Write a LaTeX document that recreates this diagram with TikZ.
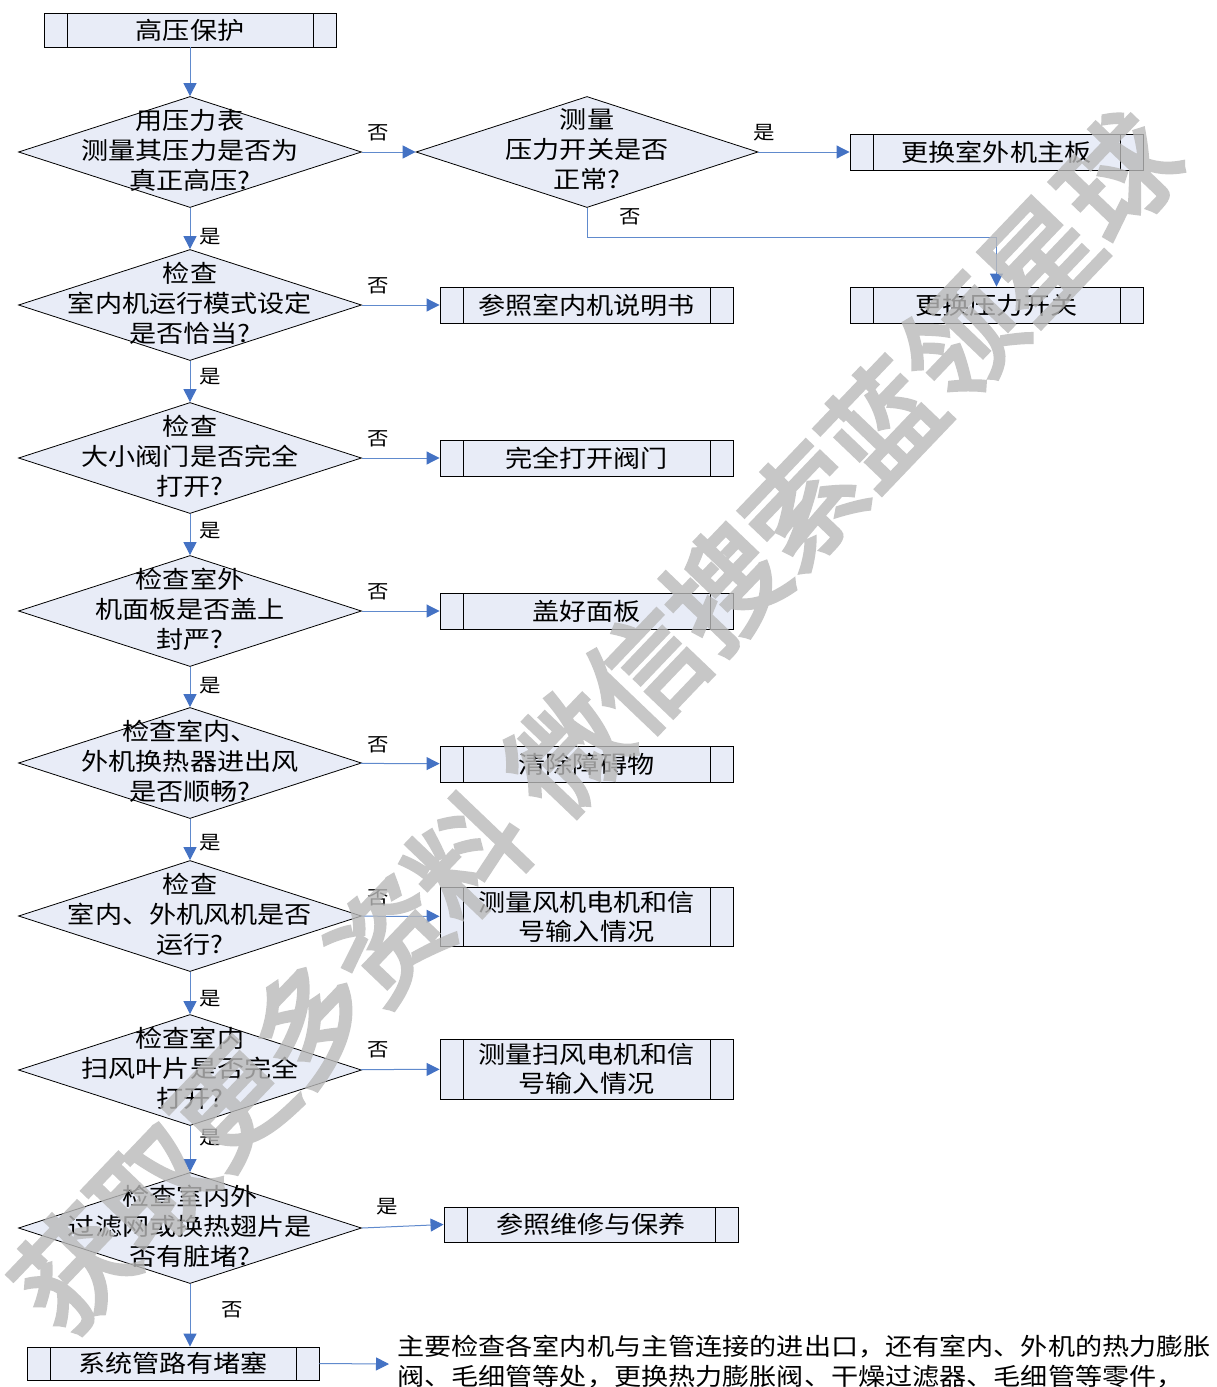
\documentclass[tikz,border=0pt]{standalone}
\usepackage{fontspec}
\newfontfamily\cjk[FakeStretch=1.13]{Noto Sans CJK SC}
\newfontfamily\cjkwm[FakeBold=4]{Noto Sans CJK SC}
\usetikzlibrary{shapes.geometric,arrows.meta}
\definecolor{boxfill}{RGB}{232,236,247}
\definecolor{flow}{RGB}{96,138,205}
\definecolor{tipc}{RGB}{68,114,196}
\definecolor{wmgray}{RGB}{185,185,185}
\begin{document}
\begin{tikzpicture}[x=1pt,y=-1pt,
  every node/.style={font=\cjk\fontsize{24}{30}\selectfont},
  dec/.style={diamond, draw=black, fill=boxfill, line width=0.8pt,
    minimum width=343pt, minimum height=111pt, inner sep=0pt},
  txt/.style={align=center, inner sep=0pt},
  proc/.style={draw=black, fill=boxfill, line width=0.9pt,
    minimum width=293pt, minimum height=36pt, inner sep=0pt, align=center,
    path picture={\draw[line width=0.9pt]
      ([xshift=23pt]path picture bounding box.north west) -- ([xshift=23pt]path picture bounding box.south west)
      ([xshift=-23pt]path picture bounding box.north east) -- ([xshift=-23pt]path picture bounding box.south east);}},
  flowline/.style={draw=flow, line width=1pt, -{Triangle[length=13pt,width=13pt,color=tipc]}},
  lab/.style={font=\cjk\fontsize{19}{20}\selectfont, inner sep=0pt}
]
\path[use as bounding box, clip] (0,0) rectangle (1216,1387);
\fill[white] (0,0) rectangle (1216,1387);

% process boxes and decisions
\node[proc, minimum width=292pt, minimum height=34pt] (top) at (190,30) {高压保护};

\node[dec] (d1) at (190,152) {};
\node[txt] (t1) at (190,150) {用压力表\\测量其压力是否为\\真正高压?};

\node[dec, minimum width=342pt] (r1) at (587,152) {};
\node[txt] (tr1) at (587,150) {测量\\压力开关是否\\正常?};

\node[proc] (b1) at (996.5,152) {更换室外机主板};
\node[proc] (b2) at (996.5,305) {更换压力开关};

\node[dec] (d2) at (190,305) {};
\node[txt] (t2) at (190,303) {检查\\室内机运行模式设定\\是否恰当?};
\node[proc] (b3) at (586.5,305) {参照室内机说明书};

\node[dec] (d3) at (190,458) {};
\node[txt] (t3) at (190,456) {检查\\大小阀门是否完全\\打开?};
\node[proc] (b4) at (586.5,458) {完全打开阀门};

\node[dec] (d4) at (190,611) {};
\node[txt] (t4) at (190,609) {检查室外\\机面板是否盖上\\封严?};
\node[proc] (b5) at (586.5,611) {盖好面板};

\node[dec] (d5) at (190,763) {};
\node[txt] (t5) at (190,761) {检查室内、\\外机换热器进出风\\是否顺畅?};
\node[proc] (b6) at (586.5,764) {清除障碍物};

\node[dec] (d6) at (190,916) {};
\node[txt] (t6) at (190,914) {检查\\室内、外机风机是否\\运行?};
\node[proc, minimum height=59pt, font=\cjk\fontsize{24}{29}\selectfont] (b7) at (586.5,916.5) {测量风机电机和信\\号输入情况};

\node[dec] (d7) at (190,1070) {};
\node[txt] (t7) at (190,1068) {检查室内\\扫风叶片是否完全\\打开?};
\node[proc, minimum height=60pt, font=\cjk\fontsize{24}{29}\selectfont] (b8) at (586.5,1069) {测量扫风电机和信\\号输入情况};

\node[dec] (d8) at (190,1228) {};
\node[txt] (t8) at (190,1226) {检查室内外\\过滤网或换热翅片是\\否有脏堵?};
\node[proc, minimum width=294pt, minimum height=35pt] (b9) at (591,1224.5) {参照维修与保养};

\node[proc, minimum width=292pt, minimum height=33pt] (bs) at (173,1363.5) {系统管路有堵塞};

\node[anchor=west, align=left, inner sep=0pt, font=\cjk\fontsize{24}{30}\selectfont] (note) at (397,1362)
  {主要检查各室内机与主管连接的进出口，还有室内、外机的热力膨胀\\阀、毛细管等处，更换热力膨胀阀、干燥过滤器、毛细管等零件，};

% connectors
\coordinate (k1) at (996.5,237);
\coordinate (nt) at (389,1364);
\draw[flowline] (top) -- (d1);
\draw[flowline] (d1) -- (r1);
\draw[flowline] (r1) -- (b1);
\draw[flowline] (r1.south) |- (k1) -- (b2.north);
\draw[flowline] (d1) -- (d2);
\draw[flowline] (d2) -- (b3);
\draw[flowline] (d2) -- (d3);
\draw[flowline] (d3) -- (b4);
\draw[flowline] (d3) -- (d4);
\draw[flowline] (d4) -- (b5);
\draw[flowline] (d4) -- (d5);
\draw[flowline] (d5) -- (b6);
\draw[flowline] (d5) -- (d6);
\draw[flowline] (d6) -- (b7);
\draw[flowline] (d6) -- (d7);
\draw[flowline] (d7) -- (b8);
\draw[flowline] (d7) -- (d8);
\draw[flowline] (d8.east) -- (b9.west);
\draw[flowline] (d8.south) -- (d8.south |- bs.north);
\draw[flowline] (bs.east) -- (nt);

% labels
\node[lab] (n1) at (378,133) {否};
\node[lab] (y1) at (210,237) {是};
\node[lab] (y0) at (764,133) {是};
\node[lab] (n0) at (630,217) {否};
\node[lab] (n2) at (378,286) {否};
\node[lab] (y2) at (210,377) {是};
\node[lab] (n3) at (378,439) {否};
\node[lab] (y3) at (210,531) {是};
\node[lab] (n4) at (378,592) {否};
\node[lab] (y4) at (210,686) {是};
\node[lab] (n5) at (378,745) {否};
\node[lab] (y5) at (210,843) {是};
\node[lab] (n6) at (378,898) {否};
\node[lab] (y6) at (210,999) {是};
\node[lab] (n7) at (378,1050) {否};
\node[lab] (y7) at (210,1138) {是};
\node[lab] (y8) at (387,1207) {是};
\node[lab] (n8) at (232,1310) {否};

% watermark
\begin{scope}[transparency group, opacity=0.8]
\node[font=\cjkwm\fontsize{114}{114}\selectfont, text=wmgray, rotate=46.3, inner sep=0pt] (wm) at (596,722) {获取更多资料\hspace{30pt}微信搜索蓝领星球};
\end{scope}
\end{tikzpicture}
\end{document}
